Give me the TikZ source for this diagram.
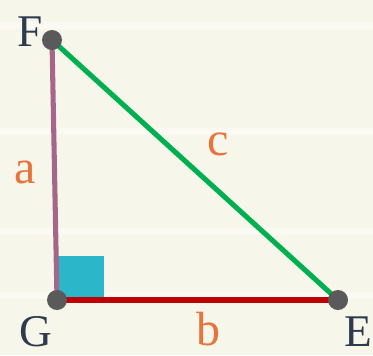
\documentclass[tikz,border=0pt]{standalone}
\usepackage{fontspec}
\setmainfont{Liberation Serif}
\usepackage{tikz}
\usetikzlibrary{positioning,calc}
\usepackage{xcolor}
\definecolor{paper}{HTML}{F7F6EA}
\definecolor{stripe}{HTML}{FAFAF2}
\definecolor{ink}{HTML}{2E3B4E}
\definecolor{lbl}{HTML}{E8743B}
\definecolor{sidea}{HTML}{A5668B}
\definecolor{sideb}{HTML}{C00000}
\definecolor{sidec}{HTML}{00B050}
\definecolor{rightang}{HTML}{2BB6C9}
\definecolor{dot}{HTML}{5A5A5A}

\begin{document}
\begin{tikzpicture}[x=0.75pt, y=-0.75pt,
    vertex/.style={circle, fill=dot, inner sep=0pt, minimum size=15pt},
    vname/.style={text=ink, font=\fontsize{34}{34}\selectfont},
    sname/.style={text=lbl, font=\fontsize{36}{36}\selectfont}]
    % paper background
    \fill[paper] (0,0) rectangle (373,355);
    \foreach \y in {22,128,228,292}
        \fill[stripe] (0,\y) rectangle (373,\y+7);
    \useasboundingbox (0,0) rectangle (373,355);
    % right angle mark
    \fill[rightang] (58,256) rectangle (104,300);
    % sides
    \coordinate (f) at (52,40);
    \coordinate (g) at (57,300);
    \coordinate (e) at (338,300);
    \draw[sidea, line width=3.8pt] (f) -- (g);
    \draw[sideb, line width=3.8pt] (g) -- (e);
    \draw[sidec, line width=3.8pt] (f) -- (e);
    \node[vertex] (F) at (f) {};
    \node[vertex] (G) at (g) {};
    \node[vertex] (E) at (e) {};
    % vertex names
    \node[vname] (Fl) at (30,32) {F};
    \node[vname] (Gl) at (36,332) {G};
    \node[vname] (El) at (358,332) {E};
    % side names
    \node[sname] (al) at (25,172) {a};
    \node[sname] (cl) at (218,144) {c};
    \node[sname] (bl) at (208,329) {b};
\end{tikzpicture}
\end{document}
